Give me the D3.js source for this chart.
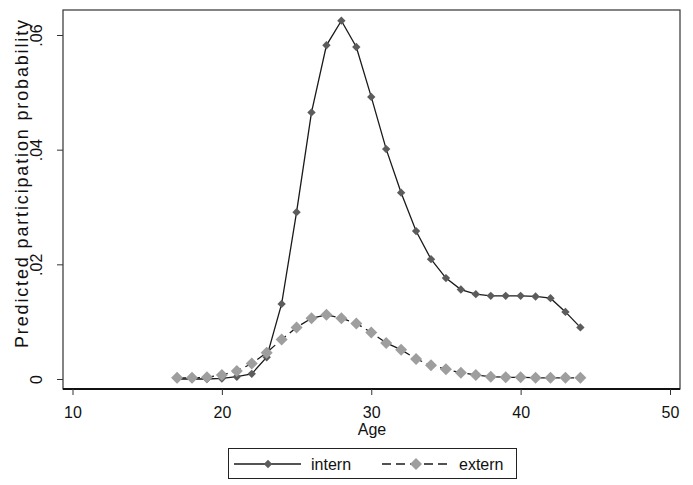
<!DOCTYPE html>
<html>
<head>
<meta charset="utf-8">
<script src="https://cdn.jsdelivr.net/npm/d3@7"></script>
<style>
	body { margin: 0; background: #fff; }
	text { font-family: "Liberation Sans", Arial, sans-serif; fill: #111; }
</style>
</head>
<body>
<svg id="chart" width="693" height="485"></svg>
<script>
// Data
const ages = [17, 18, 19, 20, 21, 22, 23, 24, 25, 26, 27, 28, 29, 30,
	31, 32, 33, 34, 35, 36, 37, 38, 39, 40, 41, 42, 43, 44];
const intern = [0.0000, 0.0000, 0.0000, 0.0001, 0.0004, 0.0009, 0.0038, 0.0131, 0.0291, 0.0465,
	0.0582, 0.0625, 0.0579, 0.0492, 0.0401, 0.0325, 0.0258, 0.0209, 0.0176, 0.0156,
	0.0148, 0.0145, 0.0145, 0.0145, 0.0144, 0.0141, 0.0117, 0.0090];
const extern = [0.0002, 0.0002, 0.0003, 0.0007, 0.0014, 0.0027, 0.0046, 0.0069, 0.0090, 0.0106,
	0.0112, 0.0106, 0.0097, 0.0081, 0.0063, 0.0051, 0.0035, 0.0024, 0.0017, 0.0011,
	0.0007, 0.0004, 0.0003, 0.0003, 0.0002, 0.0002, 0.0002, 0.0002];
const xTicks = [10, 20, 30, 40, 50];
const yTicks = [0, 0.02, 0.04, 0.06];
const yTickLabels = ["0", ".02", ".04", ".06"];

const svg = d3.select("#chart");

// plot box
const box = { left: 63, right: 680, top: 10, bottom: 389 };

const x = d3.scaleLinear().domain([10, 50]).range([72.5, 670]);
const y = d3.scaleLinear().domain([0, 0.06]).range([379, 35]);

// Frame
svg.append("rect")
	.attr("x", box.left)
	.attr("y", box.top)
	.attr("width", box.right - box.left)
	.attr("height", box.bottom - box.top)
	.style("fill", "none")
	.style("stroke", "#333")
	.style("stroke-width", 1.2);

// Y axis
const yAxis = d3.axisLeft(y)
	.tickValues(yTicks)
	.tickSize(6)
	.tickFormat((d, i) => yTickLabels[i]);

const gy = svg.append("g")
	.attr("transform", `translate(${box.left},0)`)
	.call(yAxis);
gy.select(".domain").remove();
gy.selectAll(".tick line").style("stroke", "#333");
gy.selectAll(".tick text")
	.attr("x", 0).attr("dy", 0)
	.attr("transform", "translate(-21,0) rotate(-90)")
	.attr("text-anchor", "middle")
	.style("font-size", "16px")
	.style("font-family", "Liberation Sans, Arial, sans-serif")
	.style("fill", "#111");

// X axis
const xAxis = d3.axisBottom(x)
	.tickValues(xTicks)
	.tickSize(6)
	.tickFormat(d3.format("d"));

const gx = svg.append("g")
	.attr("transform", `translate(0,${box.bottom})`)
	.call(xAxis);
gx.select(".domain")
	.attr("d", `M${box.left},0H${box.right}`)
	.style("stroke", "#111")
	.style("stroke-width", 2);
gx.selectAll(".tick line").style("stroke", "#333");
gx.selectAll(".tick text")
	.attr("y", 29).attr("dy", 0)
	.style("font-size", "16px")
	.style("font-family", "Liberation Sans, Arial, sans-serif")
	.style("fill", "#111");

// Axis titles
svg.append("text")
	.attr("x", (box.left + box.right) / 2 + 0.5)
	.attr("y", 435)
	.attr("text-anchor", "middle")
	.style("font-size", "16px")
	.text("Age");

svg.append("text")
	.attr("transform", "translate(28,184) rotate(-90)")
	.attr("text-anchor", "middle")
	.attr("textLength", 328)
	.attr("lengthAdjust", "spacing")
	.style("font-size", "18px")
	.text("Predicted participation probability");

// Series
const internData = ages.map((a, i) => ({ age: a, v: intern[i] }));
const externData = ages.map((a, i) => ({ age: a, v: extern[i] }));

const line = d3.line()
	.x(d => x(d.age))
	.y(d => y(d.v));

function diamond(r) {
	return `M0,${-r}L${r},0L0,${r}L${-r},0Z`;
}

// intern
svg.append("path")
	.datum(internData)
	.attr("d", line)
	.style("fill", "none")
	.style("stroke", "#1a1a1a")
	.style("stroke-width", 1.3);

svg.append("g")
	.selectAll("path")
	.data(internData)
	.join("path")
	.attr("transform", d => `translate(${x(d.age)},${y(d.v)})`)
	.attr("d", diamond(4.2))
	.style("fill", "#5c5c5c");

// extern
svg.append("path")
	.datum(externData)
	.attr("d", line)
	.style("fill", "none")
	.style("stroke", "#1a1a1a")
	.style("stroke-width", 1.3)
	.style("stroke-dasharray", "9,5");

svg.append("g")
	.selectAll("path")
	.data(externData)
	.join("path")
	.attr("transform", d => `translate(${x(d.age)},${y(d.v)})`)
	.attr("d", diamond(6))
	.style("fill", "#9e9e9e");

// Legend
const legend = svg.append("g");
legend.append("rect")
	.attr("x", 228.5).attr("y", 448.5)
	.attr("width", 288).attr("height", 30)
	.style("fill", "#fff")
	.style("stroke", "#222")
	.style("stroke-width", 1);

legend.append("line")
	.attr("x1", 234).attr("x2", 301)
	.attr("y1", 464).attr("y2", 464)
	.style("stroke", "#1a1a1a")
	.style("stroke-width", 1.3);
legend.append("path")
	.attr("transform", "translate(268,464)")
	.attr("d", diamond(4.2))
	.style("fill", "#5c5c5c");
legend.append("text")
	.attr("x", 311).attr("y", 470)
	.style("font-size", "16px")
	.text("intern");

legend.append("line")
	.attr("x1", 382).attr("x2", 450)
	.attr("y1", 464).attr("y2", 464)
	.style("stroke", "#1a1a1a")
	.style("stroke-width", 1.3)
	.style("stroke-dasharray", "9,5");
legend.append("path")
	.attr("transform", "translate(416,464)")
	.attr("d", diamond(6))
	.style("fill", "#9e9e9e");
legend.append("text")
	.attr("x", 459).attr("y", 470)
	.style("font-size", "16px")
	.text("extern");
</script>
</body>
</html>
